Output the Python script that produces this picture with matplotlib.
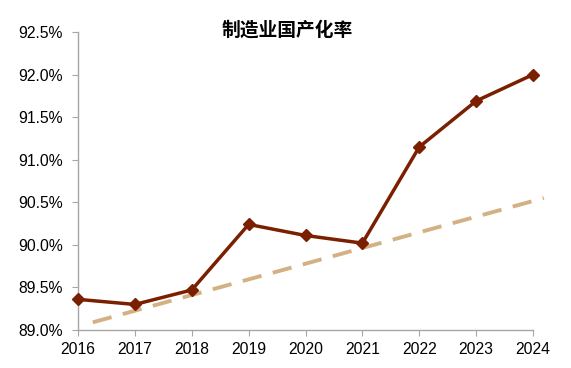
import matplotlib
matplotlib.use("Agg")
import matplotlib.pyplot as plt
from matplotlib.ticker import FuncFormatter

plt.rcParams['font.family'] = ['Liberation Sans', 'Noto Sans CJK SC', 'DejaVu Sans']

years = ["2016", "2017", "2018", "2019", "2020", "2021", "2022", "2023", "2024"]
rate = [89.36, 89.30, 89.47, 90.24, 90.11, 90.02, 91.15, 91.69, 92.00]

# dashed trend: start/end in (category index, value)
trend_x = [0.26, 8.19]
trend_y = [89.09, 90.55]

y_ticks = [89.0, 89.5, 90.0, 90.5, 91.0, 91.5, 92.0, 92.5]

fig = plt.figure(figsize=(5.71, 3.68), dpi=100)
ax = fig.add_axes([0.1366, 0.1033, 0.7969, 0.8097])

x = list(range(len(years)))
ax.plot(trend_x, trend_y, color="#D4B184", lw=2.8, dashes=(5, 3), clip_on=False, zorder=2)
ax.plot(x, rate, color="#7A2000", lw=2.5, marker="D", markersize=6.5, zorder=3, clip_on=False)

ax.set_xlim(0, 8)
ax.set_ylim(89.0, 92.5)
ax.set_xticks(x)
ax.set_xticklabels(years)
ax.set_yticks(y_ticks)
ax.yaxis.set_major_formatter(FuncFormatter(lambda v, p: f"{v:.1f}%"))

for s in ["top", "right"]:
    ax.spines[s].set_visible(False)
for s in ["left", "bottom"]:
    ax.spines[s].set_color("#A6A6A6")
    ax.spines[s].set_linewidth(1.0)
ax.tick_params(axis="both", direction="out", length=4, color="#A6A6A6",
               labelsize=11.3, labelcolor="black")
ax.tick_params(axis="y", pad=7)
ax.tick_params(axis="x", pad=5)

fig.text(287 / 571, 1 - 30 / 368, "制造业国产化率", ha="center", va="center",
         fontsize=13.5, fontweight="bold", family=['Noto Sans CJK SC', 'DejaVu Sans'])

fig.savefig("out.png", dpi=100)
